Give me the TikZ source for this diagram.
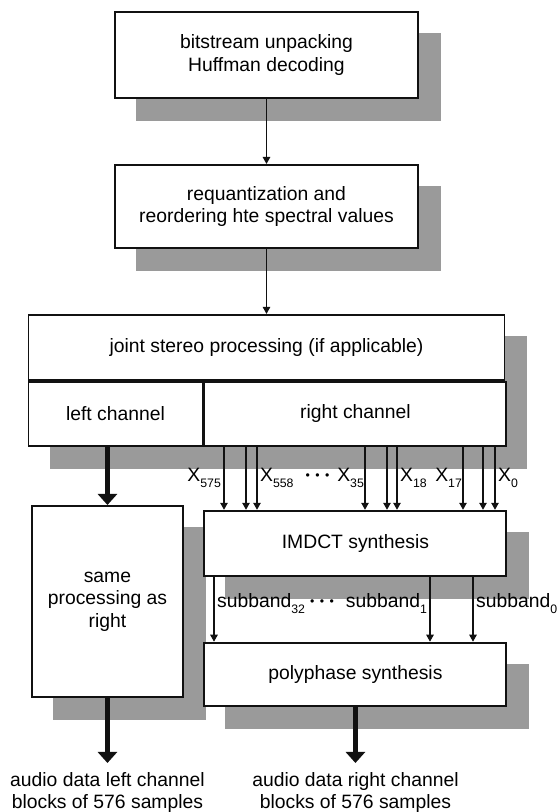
\documentclass[tikz,border=0pt]{standalone}
\usepackage{fontspec}
\setmainfont{Liberation Sans}
\usepackage{tikz}
\usepackage{xcolor}
\usetikzlibrary{arrows.meta,positioning,calc,backgrounds}
\definecolor{Ink}{HTML}{111111}
\definecolor{Shade}{HTML}{9A9A9A}
\newcommand{\dotrun}{{\scriptsize •\hspace{1.1mm}•\hspace{1.1mm}•}}
\newcommand{\low}[1]{\raisebox{-0.55ex}{\scriptsize #1}}
\newcommand{\shadow}[2]{
  \fill[Shade] ($(#1.south west)+(0.44,-0.44)$) rectangle ($(#2.north east)+(0.44,-0.44)$);
}

\begin{document}
\begin{tikzpicture}[
    font=\fontsize{11}{12.8}\selectfont,
    box/.style={draw=Ink, line width=1.1pt, fill=white, align=center, inner sep=0pt},
    feed/.style={Ink, line width=0.7pt, -{Triangle[length=1.4mm,width=1.5mm]}},
    result/.style={Ink, line width=3pt, -{Triangle[length=2.2mm,width=3.8mm]}},
    lbl/.style={inner sep=1pt}
  ]
    \useasboundingbox (0,0) rectangle (11.14,16.24);
    \node[box, minimum width=6.06cm, minimum height=1.72cm] (unpack) at (5.33,15.14)
      {bitstream unpacking\\Huffman decoding};
    \node[box, minimum width=6.06cm, minimum height=1.66cm, below=1.3cm of unpack] (requant)
      {requantization and\\reordering hte spectral values};
    \node[box, minimum width=9.52cm, minimum height=1.3cm, below=1.3cm of requant] (joint)
      {joint stereo processing (if applicable)};
    \node[box, minimum width=3.48cm, minimum height=1.28cm, anchor=north west] (leftch)
      at (joint.south west) {left channel};
    \node[box, minimum width=6.04cm, minimum height=1.28cm, anchor=north west] (rightch)
      at (leftch.north east) {right channel};
    \node[box, minimum width=3.02cm, minimum height=3.82cm, anchor=north west] (same)
      at (0.62,6.14) {same\\processing as\\right};
    \node[box, minimum width=6.04cm, minimum height=1.3cm, below=1.26cm of rightch] (imdct)
      {IMDCT synthesis};
    \node[box, minimum width=6.04cm, minimum height=1.26cm, below=1.3cm of imdct] (poly)
      {polyphase synthesis};
    \node[align=center, anchor=north, inner xsep=0pt, inner ysep=1.8mm] (leftout)
      at (same.south |- 0,0.98) {audio data left channel\\blocks of 576 samples};
    \node[align=center, anchor=north, inner xsep=0pt, inner ysep=1.8mm] (rightout)
      at (poly.south |- 0,0.98) {audio data right channel\\blocks of 576 samples};

    \begin{scope}[on background layer]
      \shadow{unpack}{unpack}
      \shadow{requant}{requant}
      \shadow{leftch}{joint}
      \shadow{same}{same}
      \shadow{imdct}{imdct}
      \shadow{poly}{poly}
    \end{scope}

    \draw[feed] (unpack) -- (requant);
    \draw[feed] (requant) -- (joint);
    \foreach \x in {4.48,4.92,5.14,7.30,7.74,7.94,9.26,9.66,9.90} {
      \draw[feed] (\x,0 |- rightch.south) -- (\x,0 |- imdct.north);
    }
    \foreach \x in {4.28,8.60,9.46} {
      \draw[feed] (\x,0 |- imdct.south) -- (\x,0 |- poly.north);
    }
    \draw[result] (same.north |- leftch.south) -- (same.north);
    \draw[result] (same.south) -- (leftout.north);
    \draw[result] (poly.south) -- (rightout.north);

    \node[lbl, anchor=base east] (x575) at (4.46,6.60) {X\low{575}};
    \node[lbl, anchor=base west] (x558) at (5.16,6.60) {X\low{558}};
    \node[lbl, anchor=base] (xdots) at (6.35,6.64) {\dotrun};
    \node[lbl, anchor=base east] (x35) at (7.32,6.60) {X\low{35}};
    \node[lbl, anchor=base west] (x18) at (7.96,6.60) {X\low{18}};
    \node[lbl, anchor=base east] (x17) at (9.28,6.60) {X\low{17}};
    \node[lbl, anchor=base west] (x0) at (9.92,6.60) {X\low{0}};

    \node[lbl, anchor=base west] (sub32) at (4.30,4.08) {subband\low{32}};
    \node[lbl, anchor=base] (subdots) at (6.44,4.12) {\dotrun};
    \node[lbl, anchor=base east] (sub1) at (8.58,4.08) {subband\low{1}};
    \node[lbl, anchor=base west] (sub0) at (9.48,4.08) {subband\low{0}};
  \end{tikzpicture}
\end{document}
